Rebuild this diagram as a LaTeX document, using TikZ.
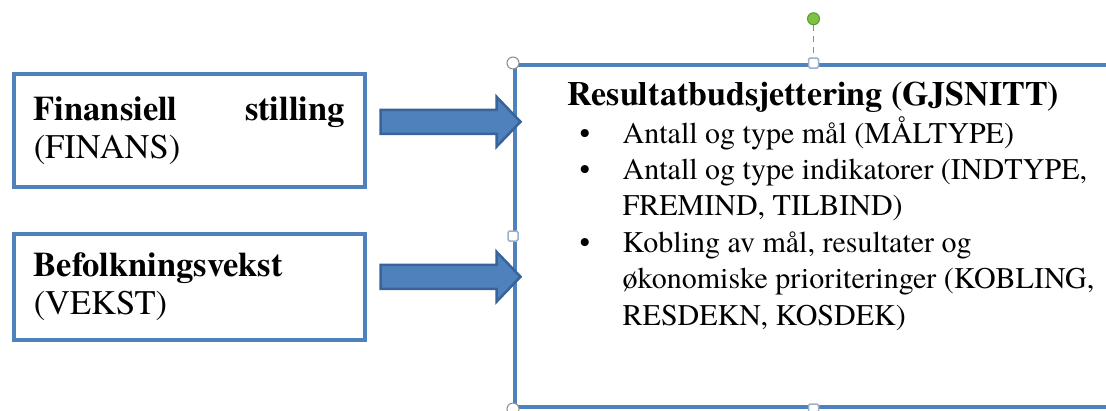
\documentclass[tikz,border=0pt]{standalone}
\usepackage{xcolor}
\usepackage{fontspec}
\IfFontExistsTF{texgyretermes-regular.otf}
	{\setmainfont{texgyretermes}[Extension=.otf,UprightFont=*-regular,BoldFont=*-bold,ItalicFont=*-italic,BoldItalicFont=*-bolditalic]}
	{\setmainfont{Liberation Serif}}
\usepackage{tikz}
\usetikzlibrary{positioning}

\definecolor{kantblaa}{HTML}{4F81BD}
\definecolor{pilkant}{HTML}{3A639A}
\definecolor{handtak}{HTML}{8C8C8C}
\definecolor{handtakblaa}{HTML}{9DB0CB}
\definecolor{rotgronn}{HTML}{7DC243}
\definecolor{rotkant}{HTML}{5E9A31}

\begin{document}
\begin{tikzpicture}[x=1pt,y=-1pt,
	boks/.style={rectangle,draw=kantblaa,line width=3.5pt,anchor=north west,minimum width=351pt,text width=311pt,inner xsep=20pt,align=justify,font=\fontsize{34.5}{38}\selectfont},
	stor/.style={rectangle,draw=kantblaa,line width=4pt,anchor=north west,minimum width=597pt,minimum height=342pt},
	pil/.style={draw=pilkant,fill=kantblaa,line width=2.5pt},
	hjorne/.style={circle,draw=handtak,fill=white,line width=1pt,minimum size=12pt,inner sep=0pt},
	midt/.style={rectangle,draw=handtakblaa,fill=white,line width=1.5pt,minimum size=10pt,inner sep=0pt,rounded corners=1.5pt},
	rot/.style={circle,draw=rotkant,fill=rotgronn,line width=1pt,minimum size=12pt,inner sep=0pt}]
	
	\useasboundingbox (0,0) rectangle (1106,410);
	
	\node[boks,minimum height=113pt] (finans) at (12,72) {\textbf{Finansiell}\hfill\textbf{stilling}\\(FINANS)};
	\node[boks,minimum height=106pt] (vekst) at (12,232) {\textbf{Befolkningsvekst}\\(VEKST)};
	
	\node[stor] (gjsnitt) at (513,63) {};
	
	\node[inner sep=0pt,anchor=base,font=\fontsize{34}{38}\selectfont\bfseries] (tittel) at ([yshift=-42pt]gjsnitt.north) {Resultatbudsjettering (GJSNITT)};
	\node[inner sep=0pt,anchor=base west,font=\fontsize{30}{36.4}\selectfont] (punkter) at ([xshift=66.5pt,yshift=-80pt]gjsnitt.north west) {%
		\begin{tabular}[t]{@{}c@{\hspace{32.5pt}}l@{}}
			\textbullet & Antall og type mål (MÅLTYPE)\\
			\textbullet & Antall og type indikatorer (INDTYPE,\\
			            & FREMIND, TILBIND)\\
			\textbullet & Kobling av mål, resultater og\\
			            & økonomiske prioriteringer (KOBLING,\\
			            & RESDEKN, KOSDEK)
		\end{tabular}};
	
	\coordinate (pilstart1) at ([xshift=14pt,yshift=8.5pt]finans.east);
	\coordinate (pilstart2) at ([xshift=14pt,yshift=10pt]vekst.east);
	\foreach \p in {pilstart1,pilstart2}
		\draw[pil] ([yshift=12pt]\p) -- ++(116,0) -- ++(0,-13) -- ++(24,25) -- ++(-24,25) -- ++(0,-13) -- ++(-116,0) -- cycle;
	
	\foreach \a/\n in {north west/nv,north east/no,south west/sv,south east/so}
		\node[hjorne] (h\n) at (gjsnitt.\a) {};
	\foreach \a/\n in {north/n,south/s,west/v,east/o}
		\node[midt] (k\n) at (gjsnitt.\a) {};
	
	\node[rot,above=32pt of kn] (rotpunkt) {};
	\draw[handtak,line width=1pt,dash pattern=on 6pt off 5pt] (rotpunkt) -- (kn);
	
\end{tikzpicture}
\end{document}
